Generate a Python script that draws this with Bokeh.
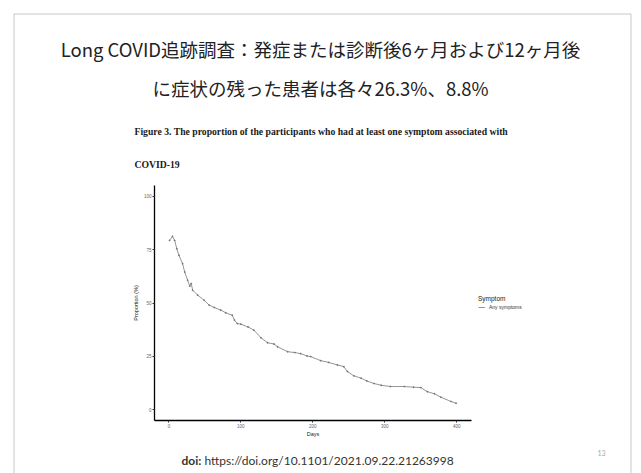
from bokeh.plotting import figure
from bokeh.models import (FixedTicker, Legend, LegendItem, Range1d, Label, BoxAnnotation)
from bokeh.embed import file_html
from bokeh.resources import INLINE

# ---- texts ----
slide_title_1 = "Long COVID追跡調査：発症または診断後6ヶ月および12ヶ月後"
slide_title_2 = "に症状の残った患者は各々26.3%、8.8%"
caption_1 = "Figure 3. The proportion of the participants who had at least one symptom associated with"
caption_2 = "COVID-19"
doi_label = "doi:"
doi_url = "https://doi.org/10.1101/2021.09.22.21263998"
page_no = "13"
x_title = "Days"
y_title = "Proportion (%)"
legend_title = "Symptom"
series_name = "Any symptoms"

# ---- data ----
days = [1, 5, 8, 11, 14, 19, 22, 26, 29, 31, 33, 40, 49, 56, 63, 72, 79, 88, 91, 95,
        100, 110, 118, 128, 137, 146, 151, 165, 175, 183, 192, 197, 211, 222, 234, 243,
        248, 257, 267, 275, 285, 295, 308, 327, 340, 350, 359, 369, 378, 392, 399]
proportion = [79.3, 81.2, 79.3, 75.4, 72.3, 68.4, 64.5, 60.7, 57.9, 59.1, 56.0, 53.7, 51.3,
              49.0, 47.9, 46.7, 45.4, 44.3, 42.0, 40.4, 40.1, 38.8, 37.3, 33.7, 31.4, 30.8,
              29.5, 27.2, 26.8, 26.3, 25.2, 24.9, 23.0, 22.2, 21.0, 20.2, 17.9, 15.9, 14.8,
              13.5, 12.3, 11.5, 10.9, 10.9, 10.6, 10.4, 8.5, 7.5, 5.9, 3.9, 3.1]
x_ticks = [0, 100, 200, 300, 400]
y_ticks = [0, 25, 50, 75, 100]
x_limits = (-20, 420)
y_limits = (-5, 105)

# ---- geometry (pixels) ----
W, H = 641, 473
PANEL_L, PANEL_R = 154, 470.7     # pixel position of x_limits
PANEL_T, PANEL_B = 185, 420       # pixel position of y_limits (top, bottom)

sx = (PANEL_R - PANEL_L) / (x_limits[1] - x_limits[0])
sy = (PANEL_B - PANEL_T) / (y_limits[1] - y_limits[0])
x_range = Range1d(x_limits[0] - PANEL_L / sx, x_limits[0] + (W - PANEL_L) / sx)
y_range = Range1d(y_limits[0] - (H - PANEL_B) / sy, y_limits[1] + PANEL_T / sy)

p = figure(width=W, height=H, output_backend="svg", toolbar_location=None,
           x_range=x_range, y_range=y_range, min_border=0)
p.grid.visible = False
p.outline_line_color = None
p.background_fill_color = "white"
p.border_fill_color = "white"

for ax, ticks, title, loc, bounds in ((p.xaxis, x_ticks, x_title, y_limits[0], x_limits),
                                      (p.yaxis, y_ticks, y_title, x_limits[0], y_limits)):
    ax.fixed_location = loc
    ax.bounds = bounds
    ax.ticker = FixedTicker(ticks=ticks)
    ax.axis_label = title
    ax.axis_line_color = "black"
    ax.axis_line_width = 1.3
    ax.major_tick_line_color = "#333333"
    ax.major_tick_out = 2
    ax.major_tick_in = 0
    ax.minor_tick_line_color = None
    ax.major_label_text_font = "Liberation Sans"
    ax.major_label_text_font_size = "4.5px"
    ax.major_label_text_color = "#666666"
    ax.major_label_standoff = 1
    ax.axis_label_text_font = "Liberation Sans"
    ax.axis_label_text_font_size = "5.5px"
    ax.axis_label_text_font_style = "normal"
    ax.axis_label_text_color = "#222222"
p.xaxis.axis_label_standoff = 0
p.yaxis.axis_label_standoff = 2

LINE_COLOR = "#959595"
r = p.line(days, proportion, line_color=LINE_COLOR, line_width=1)
p.scatter(days, proportion, size=1, color="#777777")

legend = Legend(items=[LegendItem(label=series_name, renderers=[r])], title=legend_title,
                location=(478, 163), padding=0, spacing=0, margin=0,
                border_line_color=None, background_fill_alpha=0,
                label_text_font="Liberation Sans", label_text_font_size="5px",
                label_text_color="#333333",
                title_text_font="Liberation Sans", title_text_font_size="6.5px",
                title_text_font_style="normal", title_text_color="#222222",
                title_standoff=2, glyph_width=7, glyph_height=6, label_height=6,
                label_standoff=4)
p.add_layout(legend)


def add_text(x, y, text, size, font, style="normal", color="#222222", align="left"):
    p.add_layout(Label(x=x, y=y, x_units="canvas", y_units="canvas", text=text,
                       text_font=font, text_font_size=f"{size}px", text_font_style=style,
                       text_color=color, text_align=align, text_baseline="middle"))


add_text(320, 48, slide_title_1, 18.5, "Noto Sans CJK JP", align="center")
add_text(320, 87, slide_title_2, 18.5, "Noto Sans CJK JP", align="center")
add_text(134, 131, caption_1, 9.7, "Liberation Serif", style="bold", color="#1a1a1a")
add_text(134, 164, caption_2, 9.7, "Liberation Serif", style="bold", color="#1a1a1a")
add_text(181, 460, doi_label, 12, "Lato", style="bold", color="#333333")
add_text(204, 460, doi_url, 12, "Lato", color="#333333")
add_text(597, 452, page_no, 7, "Lato", color="#aaaaaa")

slide_border = BoxAnnotation(left=13.5, right=630.5, top=13.5, bottom=H + 10,
                             left_units="canvas", right_units="canvas",
                             top_units="canvas", bottom_units="canvas",
                             fill_alpha=0, line_color="#4a4a4a", line_width=1)
p.add_layout(slide_border)

open("out.html", "w").write(file_html(p, INLINE))
